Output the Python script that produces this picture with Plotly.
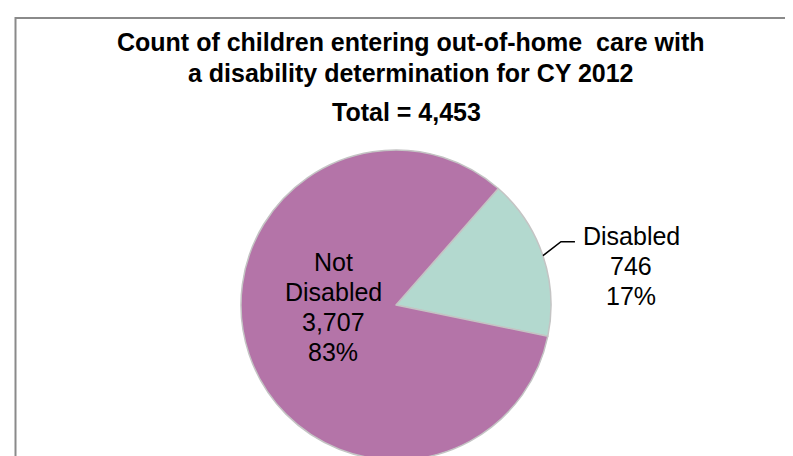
import math
import plotly.graph_objects as go

# ---- data ----
categories = ["Disabled", "Not Disabled"]
counts = [746, 3707]
colors = ["#B3D9CF", "#B474A8"]
title_lines = ["Count of children entering out-of-home  care with",
               "a disability determination for CY 2012"]

total = sum(counts)
W, H = 793, 456
cx, cy, R = 388, 297, 155   # pixel geometry of pie
rotation = 41.3

fig = go.Figure(go.Pie(
    labels=categories, values=counts, sort=False, direction="clockwise",
    rotation=rotation, textinfo="none", hoverinfo="label+value+percent",
    marker=dict(colors=colors, line=dict(color="#C4C4C4", width=1.5)),
    domain=dict(x=[(cx - R) / W, (cx + R) / W],
                y=[(H - cy - R) / H, (H - cy + R) / H]),
    showlegend=False,
))

FONT = "Liberation Sans, Arial, sans-serif"


def px(x, y):
    return x / W, 1 - y / H


anns = []


def add_line(text, x, y, size, bold=False):
    ax, ay = px(x, y)
    anns.append(dict(x=ax, y=ay, xref="paper", yref="paper", xanchor="center",
                     yanchor="middle", text=("<b>%s</b>" % text) if bold else text,
                     showarrow=False, font=dict(family=FONT, size=size, color="#000")))


# title
add_line(title_lines[0], 403, 34, 25, bold=True)
add_line(title_lines[1], 403, 65, 25, bold=True)
add_line("Total = {:,}".format(total), 398, 104, 25, bold=True)

pcts = [round(100 * c / total) for c in counts]
# inside label for Not Disabled
inner = ["Not", "Disabled", "{:,}".format(counts[1]), "{}%".format(pcts[1])]
for i, t in enumerate(inner):
    add_line(t, 325, 254 + 30 * i, 25)
# outside label for Disabled
outer = [categories[0], "{:,}".format(counts[0]), "{}%".format(pcts[0])]
for i, t in enumerate(outer):
    add_line(t, 623, 228 + 30 * i, 25)

# leader line from slice mid-angle on the rim
mid = math.radians(rotation + 360 * counts[0] / total / 2)
sx, sy = cx + R * math.sin(mid), cy - R * math.cos(mid)
ex, ey = sx + 18, sy - 14
fx = ex + 14
p = [px(sx, sy), px(ex, ey), px(fx, ey)]
path = "M {} {} L {} {} L {} {}".format(p[0][0], p[0][1], p[1][0], p[1][1], p[2][0], p[2][1])

shapes = [
    dict(type="path", xref="paper", yref="paper", path=path,
         line=dict(color="#000", width=1.5)),
    dict(type="rect", xref="paper", yref="paper",
         x0=7.5 / W, x1=1.05, y0=-0.05, y1=1 - 10 / H,
         line=dict(color="#8A8A8A", width=2), fillcolor="rgba(0,0,0,0)"),
]

fig.update_layout(width=W, height=H, margin=dict(l=0, r=0, t=0, b=0),
                  paper_bgcolor="white", plot_bgcolor="white",
                  annotations=anns, shapes=shapes)
fig.write_html("out.html")
